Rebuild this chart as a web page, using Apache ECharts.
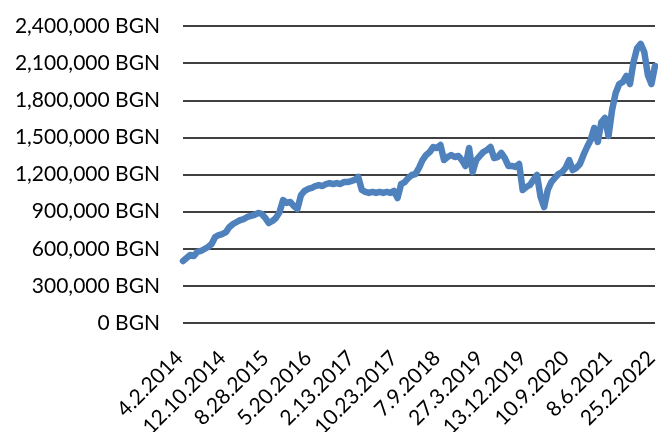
<!DOCTYPE html>
<html>
<head>
<meta charset="utf-8">
<script src="https://cdn.jsdelivr.net/npm/echarts@6/dist/echarts.min.js"></script>
<style>
  html, body { margin: 0; padding: 0; background: #ffffff; }
  #chart { width: 658px; height: 432px; }
</style>
</head>
<body>
<div id="chart"></div>
<script>
// Tick labels shown on the category axis (one every 12 points)
const xTickLabels = ['4.2.2014', '12.10.2014', '8.28.2015', '5.20.2016', '2.13.2017', '10.23.2017',
  '7.9.2018', '27.3.2019', '13.12.2019', '10.9.2020', '8.6.2021', '25.2.2022'];
const pointsPerTick = 12;

// Portfolio value in BGN
const values = [
  501000, 525000, 550000, 541000, 574000, 582000, 598000, 614000, 638000, 695000,
  711000, 719000, 735000, 776000, 800000, 816000, 832000, 840000, 857000, 865000,
  873000, 889000, 881000, 849000, 808000, 824000, 849000, 897000, 994000, 970000,
  978000, 945000, 921000, 1034000, 1067000, 1083000, 1091000, 1107000, 1115000, 1107000,
  1123000, 1131000, 1123000, 1131000, 1123000, 1139000, 1139000, 1147000, 1156000, 1180000,
  1075000, 1059000, 1051000, 1059000, 1051000, 1059000, 1051000, 1059000, 1051000, 1067000,
  1010000, 1123000, 1139000, 1172000, 1196000, 1204000, 1253000, 1317000, 1358000, 1382000,
  1422000, 1414000, 1438000, 1317000, 1341000, 1358000, 1341000, 1350000, 1317000, 1269000,
  1414000, 1220000, 1317000, 1350000, 1382000, 1398000, 1422000, 1333000, 1341000, 1374000,
  1333000, 1269000, 1269000, 1261000, 1285000, 1075000, 1099000, 1115000, 1156000, 1196000,
  1018000, 937000, 1075000, 1139000, 1172000, 1204000, 1220000, 1253000, 1317000, 1236000,
  1253000, 1285000, 1358000, 1422000, 1479000, 1576000, 1463000, 1624000, 1657000, 1511000,
  1721000, 1859000, 1931000, 1948000, 1996000, 1931000, 2109000, 2222000, 2255000, 2190000,
  2004000, 1931000, 2077000
];

// Y axis ticks
const yMin = 0, yMax = 2400000, yStep = 300000;

const categories = values.map((_, i) =>
  (i % pointsPerTick === 0 && xTickLabels[i / pointsPerTick]) ? xTickLabels[i / pointsPerTick] : ('p' + i));

const FONT = 'Lato';
const chart = echarts.init(document.getElementById('chart'), null, { renderer: 'canvas' });
chart.setOption({
  animation: false,
  backgroundColor: '#ffffff',
  grid: { left: 183, right: 3, top: 26, bottom: 109, containLabel: false, outerBoundsMode: 'none' },
  xAxis: {
    type: 'category',
    data: categories,
    boundaryGap: false,
    axisLine: { show: false },
    axisTick: { show: false },
    splitLine: { show: false },
    axisLabel: {
      interval: pointsPerTick - 1,
      rotate: 45,
      margin: 28,
      padding: [32, 5, 0, 0],
      color: '#000000',
      fontFamily: FONT,
      fontSize: 21,
      showMaxLabel: true,
      formatter: v => (v.charAt(0) === 'p' ? '' : v)
    }
  },
  yAxis: {
    type: 'value',
    min: yMin,
    max: yMax,
    interval: yStep,
    axisLine: { show: false },
    axisTick: { show: false },
    splitLine: { show: true, lineStyle: { color: '#000000', width: 1.5 } },
    axisLabel: {
      margin: 23,
      color: '#000000',
      fontFamily: FONT,
      fontSize: 21,
      formatter: v => v.toLocaleString('en-US') + ' BGN'
    }
  },
  series: [{
    type: 'line',
    data: values,
    showSymbol: false,
    smooth: false,
    lineStyle: { color: '#4F81BD', width: 6.5, cap: 'round', join: 'round' }
  }]
});
</script>
</body>
</html>
